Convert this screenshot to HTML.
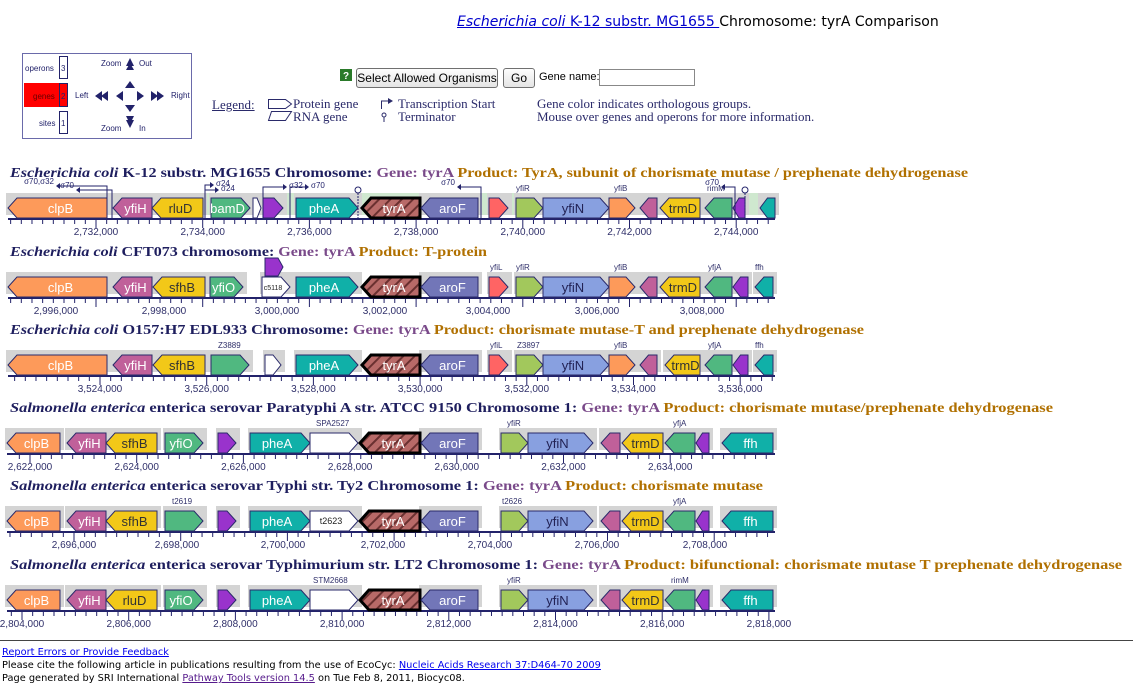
<!DOCTYPE html>
<html><head><meta charset="utf-8">
<style>
body{margin:0;width:1133px;height:688px;overflow:hidden;background:#fff;font-family:"Liberation Sans",sans-serif;position:relative}
.a{position:absolute;white-space:nowrap}
.ser{font-family:"Liberation Serif",serif;color:#2a2a6a}
.btn{position:absolute;border:1px solid #707070;border-radius:3px;background:linear-gradient(#fdfdfd,#e4e4e4);font-size:12px;text-align:center;line-height:18px;height:18px}
.foot{font-family:"DejaVu Sans",sans-serif;font-size:9.8px;color:#000}
.lnk{color:#0000ee;text-decoration:underline}
</style></head><body>
<div class="a" style="left:457px;top:14px;font-family:'DejaVu Sans',sans-serif;font-size:14px;color:#000"><span class="lnk" style="font-style:italic;color:#0000cc">Escherichia coli</span><span class="lnk" style="color:#0000cc"> K-12 substr. MG1655 </span>Chromosome: tyrA Comparison</div>

<svg class="a" style="left:0;top:0" width="1133" height="688" id="s">
<rect x="22.5" y="53.5" width="169" height="85" fill="#fff" stroke="#6a6aaa"/>
<rect x="24" y="83" width="43" height="24" fill="#ff0000"/>
<rect x="59.5" y="56.5" width="8" height="22" fill="none" stroke="#22226a"/>
<rect x="59.5" y="83.5" width="8" height="23" fill="red" stroke="#22226a"/>
<rect x="59.5" y="111.5" width="8" height="22" fill="none" stroke="#22226a"/>
<g font-size="8" fill="#22226a" font-family="Liberation Sans,sans-serif">
<text x="25" y="71">operons</text><text x="61" y="71">3</text>
<text x="33" y="99" fill="#600">genes</text><text x="61" y="99">2</text>
<text x="39" y="126">sites</text><text x="61" y="126">1</text>
<text x="101" y="66">Zoom</text><text x="139" y="66">Out</text>
<text x="75" y="98">Left</text><text x="171" y="98">Right</text>
<text x="101" y="131">Zoom</text><text x="139" y="131">In</text>
</g>
<g fill="#22226a">
<polygon points="130,58 126,66 134,66"/><polygon points="130,63 126,70 134,70"/>
<polygon points="130,128 126,120 134,120"/><polygon points="130,124 126,116 134,116"/>
<polygon points="130,81 125,88 135,88"/><polygon points="130,112 125,105 135,105"/>
<polygon points="116,96 123,91 123,101"/><polygon points="144,96 137,91 137,101"/>
<polygon points="95,96 102,91 102,101"/><polygon points="101,96 108,91 108,101"/>
<polygon points="164,96 157,91 157,101"/><polygon points="158,96 151,91 151,101"/>
</g>
<path d="M268.5,99.5h17l6,4.5l-6,4.5h-17z" fill="none" stroke="#2a2a6a"/>
<path d="M271.5,111.5h20l-6,9h-17z" fill="none" stroke="#2a2a6a"/>
<path d="M381.5,109v-8h8" fill="none" stroke="#2a2a6a"/><polygon points="393,101 388,98 388,104" fill="#2a2a6a"/>
<circle cx="384" cy="115" r="2" fill="none" stroke="#2a2a6a"/><line x1="384" y1="117" x2="384" y2="122" stroke="#2a2a6a"/>
<rect x="340" y="69" width="12" height="12" fill="#2a7a2a"/><text x="343" y="79" font-size="10" font-weight="bold" fill="#fff" font-family="Liberation Sans">?</text>
<rect x="599.5" y="69.5" width="95" height="16" fill="#fff" stroke="#888"/>
<line x1="0" y1="640.5" x2="1133" y2="640.5" stroke="#444"/>
<g id="tracks"></g>
</svg>
<div class="btn" style="left:356px;top:68px;width:140px">Select Allowed Organisms</div>
<div class="btn" style="left:503px;top:68px;width:30px">Go</div>
<div class="a" style="left:539px;top:71px;font-size:11px">Gene name:</div>
<div class="a ser" style="left:212px;top:97px;font-size:13px;text-decoration:underline">Legend:</div>
<div class="a ser" style="left:293px;top:97px;font-size:13px;line-height:13px">Protein gene<br>RNA gene</div>
<div class="a ser" style="left:398px;top:97px;font-size:13px;line-height:13px">Transcription Start<br>Terminator</div>
<div class="a ser" style="left:537px;top:97px;font-size:13px;line-height:13px">Gene color indicates orthologous groups.<br>Mouse over genes and operons for more information.</div>
<div class="a foot" style="left:2px;top:647px"><span class="lnk">Report Errors or Provide Feedback</span></div>
<div class="a foot" style="left:2px;top:660px">Please cite the following article in publications resulting from the use of EcoCyc: <span class="lnk">Nucleic Acids Research 37:D464-70 2009</span></div>
<div class="a foot" style="left:2px;top:673px">Page generated by SRI International <span class="lnk" style="color:#551a8b">Pathway Tools version 14.5</span> on Tue Feb 8, 2011, Biocyc08.</div>
<script>
var NS="http://www.w3.org/2000/svg",G=document.getElementById("tracks");
function el(t,a,txt){var e=document.createElementNS(NS,t);for(var k in a)e.setAttribute(k,a[k]);if(txt!=null)e.textContent=txt;G.appendChild(e);return e;}
var defs=el("defs",{});
defs.innerHTML='<pattern id="h" width="8" height="8" patternUnits="userSpaceOnUse" patternTransform="rotate(45)"><rect width="8" height="8" fill="#b86a68"/><rect width="2" height="8" fill="#6a3030"/></pattern>';
var C={or:"#fd9a5a",mg:"#c0609a",ye:"#f2c818",gr:"#50b880",pu:"#9933cc",te:"#10b0a8",ty:"url(#h)",sl:"#7276b8",rd:"#ff6464",lg:"#a2c85c",bl:"#88a0e0",wh:"#ffffff"};
var TC={or:"#fff",mg:"#fff",ye:"#333",gr:"#fff",pu:"#fff",te:"#fff",ty:"#fff",sl:"#fff",rd:"#fff",lg:"#333",bl:"#222255",wh:"#222"};
var T=[
{y:219,title:["Escherichia coli"," K-12 substr. MG1655 Chromosome: ","Gene: tyrA  ","Product: TyrA, subunit of chorismate mutase / prephenate dehydrogenase"],tw:958,
 x0:96,lab:["2,732,000","2,734,000","2,736,000","2,738,000","2,740,000","2,742,000","2,744,000"],
 g:[[8,107,"l","or","clpB"],[113,152,"l","mg","yfiH"],[152,203,"l","ye","rluD"],[211,250,"r","gr","bamD"],[253,261,"r","wh",""],[263,283,"r","pu",""],[296,358,"r","te","pheA"],[362,420,"l","ty","tyrA"],[421,478,"l","sl","aroF"],[489,508,"r","rd",""],[516,543,"r","lg","",""],[543,609,"r","bl","yfiN"],[609,635,"r","or",""],[640,657,"l","mg",""],[660,700,"l","ye","trmD"],[705,732,"l","gr",""],[733,745,"l","pu",""],[760,775,"l","te",""]],
 ab:[[516,"yfiR"],[614,"yfiB"],[707,"rimM"]]},
{y:298,title:["Escherichia coli"," CFT073 chromosome: ","Gene: tyrA  ","Product: T-protein"],tw:477,
 x0:96,lab:["2,996,000","2,998,000","3,000,000","3,002,000","3,004,000","3,006,000","3,008,000"],labx:[56,164,277,385,488,597,702],
 g:[[8,107,"l","or","clpB"],[113,152,"l","mg","yfiH"],[153,205,"l","ye","sfhB"],[210,243,"r","gr","yfiO"],[262,290,"r","wh","c5118"],[296,358,"r","te","pheA"],[362,420,"l","ty","tyrA"],[421,478,"l","sl","aroF"],[489,508,"r","rd",""],[516,543,"r","lg",""],[543,609,"r","bl","yfiN"],[609,635,"r","or",""],[640,657,"l","mg",""],[660,700,"l","ye","trmD"],[705,732,"l","gr",""],[733,748,"l","pu",""],[755,773,"l","te",""]],
 ab:[[490,"yfiL"],[516,"yfiR"],[614,"yfiB"],[708,"yfjA"],[755,"ffh"]],extra:1},
{y:376,title:["Escherichia coli"," O157:H7 EDL933 Chromosome: ","Gene: tyrA  ","Product: chorismate mutase-T and prephenate dehydrogenase"],tw:854,
 x0:100,lab:["3,524,000","3,526,000","3,528,000","3,530,000","3,532,000","3,534,000","3,536,000"],
 g:[[8,107,"l","or","clpB"],[113,152,"l","mg","yfiH"],[153,205,"l","ye","sfhB"],[211,249,"r","gr",""],[265,281,"r","wh",""],[296,358,"r","te","pheA"],[362,420,"l","ty","tyrA"],[421,478,"l","sl","aroF"],[489,508,"r","rd",""],[516,543,"r","lg",""],[543,609,"r","bl","yfiN"],[609,635,"r","or",""],[640,657,"l","mg",""],[665,700,"l","ye","trmD"],[705,732,"l","gr",""],[733,748,"l","pu",""],[755,773,"l","te",""]],
 ab:[[218,"Z3889"],[490,"yfiL"],[517,"Z3897"],[614,"yfiB"],[708,"yfjA"],[755,"ffh"]]},
{y:454,title:["Salmonella enterica"," enterica serovar Paratyphi A str. ATCC 9150 Chromosome 1: ","Gene: tyrA  ","Product: chorismate mutase/prephenate dehydrogenase"],tw:1043,
 x0:30,lab:["2,622,000","2,624,000","2,626,000","2,628,000","2,630,000","2,632,000","2,634,000"],
 g:[[7,60,"l","or","clpB"],[67,106,"l","mg","yfiH"],[106,157,"l","ye","sfhB"],[165,203,"r","gr","yfiO"],[218,236,"r","pu",""],[250,310,"r","te","pheA"],[310,358,"r","wh",""],[360,420,"l","ty","tyrA"],[421,478,"l","sl","aroF"],[501,528,"r","lg",""],[528,593,"r","bl","yfiN"],[601,620,"l","mg",""],[622,663,"l","ye","trmD"],[665,695,"l","gr",""],[696,709,"l","pu",""],[722,773,"l","te","ffh"]],
 ab:[[316,"SPA2527"],[507,"yfiR"],[673,"yfjA"]]},
{y:532,title:["Salmonella enterica"," enterica serovar Typhi str. Ty2 Chromosome 1: ","Gene: tyrA  ","Product: chorismate mutase"],tw:753,
 x0:74,lab:["2,696,000","2,698,000","2,700,000","2,702,000","2,704,000","2,706,000","2,708,000"],labx:[74,177,283,383,490,597,705],
 g:[[7,60,"l","or","clpB"],[67,106,"l","mg","yfiH"],[106,157,"l","ye","sfhB"],[165,203,"r","gr",""],[218,236,"r","pu",""],[250,310,"r","te","pheA"],[310,358,"r","wh","t2623"],[360,420,"l","ty","tyrA"],[421,478,"l","sl","aroF"],[501,528,"r","lg",""],[528,593,"r","bl","yfiN"],[601,620,"l","mg",""],[622,663,"l","ye","trmD"],[665,695,"l","gr",""],[696,709,"l","pu",""],[722,773,"l","te","ffh"]],
 ab:[[172,"t2619"],[502,"t2626"],[673,"yfjA"]]},
{y:611,title:["Salmonella enterica"," enterica serovar Typhimurium str. LT2 Chromosome 1: ","Gene: tyrA  ","Product: bifunctional: chorismate mutase T prephenate dehydrogenase"],tw:1112,
 x0:22,lab:["2,804,000","2,806,000","2,808,000","2,810,000","2,812,000","2,814,000","2,816,000","2,818,000"],
 g:[[7,60,"l","or","clpB"],[67,106,"l","mg","yfiH"],[106,157,"l","ye","rluD"],[165,203,"r","gr","yfiO"],[218,236,"r","pu",""],[250,310,"r","te","pheA"],[310,358,"r","wh",""],[360,420,"l","ty","tyrA"],[421,478,"l","sl","aroF"],[501,528,"r","lg",""],[528,593,"r","bl","yfiN"],[601,620,"l","mg",""],[622,663,"l","ye","trmD"],[665,695,"l","gr",""],[696,709,"l","pu",""],[722,773,"l","te","ffh"]],
 ab:[[313,"STM2668"],[507,"yfiR"],[671,"rimM"]]}
];
T.forEach(function(t,i){
 var y=t.y;
 var tx=el("text",{x:10,y:y-42,"font-family":"Liberation Serif,serif","font-weight":"bold","font-size":"14",textLength:t.tw,lengthAdjust:"spacingAndGlyphs"});
 var cols=["#1e1e5e","#1e1e5e","#7a4a8a","#b07000"];
 t.title.forEach(function(s,j){var ts=document.createElementNS(NS,"tspan");ts.setAttribute("fill",cols[j]);if(j==0)ts.setAttribute("font-style","italic");ts.textContent=s;tx.appendChild(ts);});
 if(i==0){el("rect",{x:20,y:y-26,width:750,height:22,fill:"#cfe8cf"});}
 var start=t.g[0][0],end=775;
 t.g.forEach(function(g){ if(g[3]!="ty") el("rect",{x:g[0]-2,y:y-26,width:g[1]-g[0]+6,height:22,fill:"#d4d4d4"});});
 el("line",{x1:start,y1:y,x2:end,y2:y,stroke:"#22226a","stroke-width":2});
 var sp=106.7/10;
 for(var k=-20;k<80;k++){var x=t.x0+k*sp;if(x<start+2||x>end-2)continue;var maj=(k%10==0);
  el("line",{x1:x,y1:y,x2:x,y2:y+(maj?9:5),stroke:"#22226a","stroke-width":1});}
 t.lab.forEach(function(l,k){var x=t.labx?t.labx[k]:t.x0+k*106.7;el("text",{x:x,y:y+16,"font-size":"10","text-anchor":"middle",fill:"#30306a","font-family":"Liberation Sans,sans-serif"},l);});
 t.g.forEach(function(g){
  var a=g[0],b=g[1],top=y-21,bot=y-1,m=(top+bot)/2,p=Math.min(9,(b-a)/2);
  var pts=g[2]=="r"?[a,top,b-p,top,b,m,b-p,bot,a,bot]:[a+p,top,b,top,b,bot,a+p,bot,a,m];
  var thick=g[3]=="ty";
  el("polygon",{points:pts.join(","),fill:C[g[3]],stroke:thick?"#000":"#2a2a6a","stroke-width":thick?3:1});
  if(g[4])el("text",{x:(a+b)/2+(g[2]=="r"?-3:3),y:m+(g[4].length>4?3:5),"font-size":g[4]=="c5118"?"7":(g[4].length>4?"9":"13"),"text-anchor":"middle",fill:TC[g[3]],"font-family":"Liberation Sans,sans-serif"},g[4]);
 });
 if(t.extra){el("polygon",{points:"265,258 278,258 283,267 278,276 265,276",fill:"#9933cc",stroke:"#2a2a6a"});}
 t.ab.forEach(function(b){el("text",{x:b[0],y:y-28,"font-size":"8",fill:"#30306a","font-family":"Liberation Sans,sans-serif"},b[1]);});
});
var P=[[107,186,60,"σ70,σ32"],[112,190,80,"σ70"],[205,185,210,"σ24"],[205,190,215,"σ24"],[263,187,283,"σ32"],[290,187,305,"σ70"],[481,187,461,"σ70"],[735,187,725,"σ70"]];
P.forEach(function(p){var x=p[0],yy=p[1],x2=p[2];el("path",{d:"M"+x+",218V"+yy+"H"+x2,fill:"none",stroke:"#22226a"});
 var d=x2>x?1:-1;el("polygon",{points:[x2+d*4,yy,x2,yy-3,x2,yy+3].join(","),fill:"#22226a"});
 el("text",{x:x2+d*6,y:yy+(d>0?1:-2),"font-size":"8",fill:"#22226a","text-anchor":d>0?"start":"end","font-family":"Liberation Sans,sans-serif"},p[3]);});
[[358,190],[745,190]].forEach(function(q){el("circle",{cx:q[0],cy:q[1],r:3,fill:"#fff",stroke:"#22226a"});el("line",{x1:q[0],y1:193,x2:q[0],y2:218,stroke:"#22226a","stroke-dasharray":"2,1"});});
</script>
</body></html>
